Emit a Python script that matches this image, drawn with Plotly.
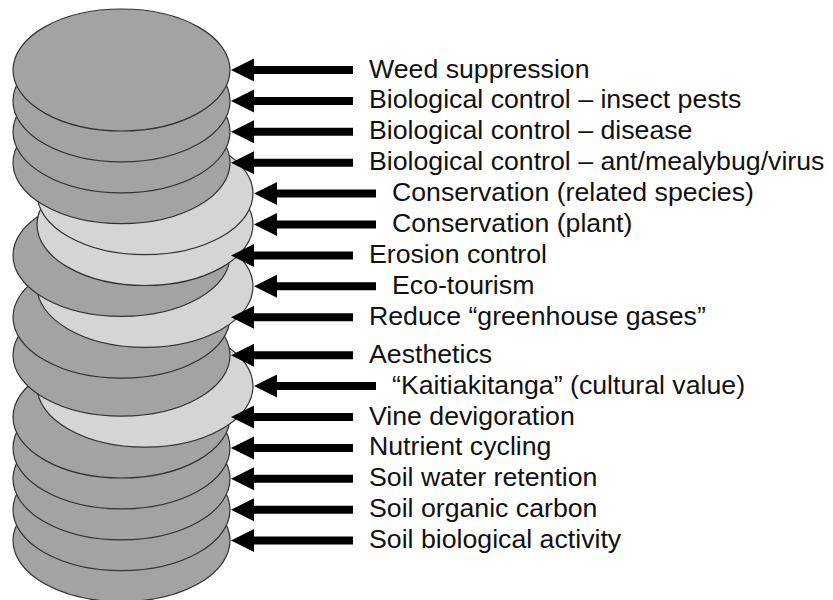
"""Stacked discs of vineyard ecosystem services with arrows and labels."""

import plotly.graph_objects as go

# --- data -------------------------------------------------------------
labels = [
    "Weed suppression",
    "Biological control – insect pests",
    "Biological control – disease",
    "Biological control – ant/mealybug/virus",
    "Conservation (related species)",
    "Conservation (plant)",
    "Erosion control",
    "Eco-tourism",
    "Reduce “greenhouse gases”",
    "Aesthetics",
    "“Kaitiakitanga” (cultural value)",
    "Vine devigoration",
    "Nutrient cycling",
    "Soil water retention",
    "Soil organic carbon",
    "Soil biological activity",
]
# "core" = dark disc, "extra" = light disc shifted right
kinds = ["core", "core", "core", "core", "extra", "extra", "core", "extra",
         "core", "core", "extra", "core", "core", "core", "core", "core"]
# position of each disc in the stack (layer units, top = 0)
layer = [0, 1, 2, 3, 4, 5, 6, 7, 8, 9.23, 10.23, 11.23, 12.23, 13.23, 14.23, 15.23]

# --- geometry / style -------------------------------------------------
W, H = 833, 600
OFF = 8            # page body margin of the html page
PX = 30.9          # pixels per layer
TOP = 70           # pixel y of layer 0
DISC_B = 61 / PX   # half height of a disc, layer units
DISC = {"core": dict(x0=13, x1=230, fill="#a3a3a3", text_x=367),
        "extra": dict(x0=37, x1=253, fill="#d5d5d5", text_x=390)}
ARROW_LEN = 122
HEAD_LEN = 23
HEAD_HALF = 11.5 / PX

fig = go.Figure()

# discs, drawn bottom first so the upper ones cover the lower ones
for i in reversed(range(len(labels))):
    d = DISC[kinds[i]]
    fig.add_shape(type="circle", xref="x", yref="y",
                  x0=d["x0"], x1=d["x1"],
                  y0=layer[i] - DISC_B, y1=layer[i] + DISC_B,
                  fillcolor=d["fill"], line=dict(color="#333333", width=1.2))

# arrows + labels
for i, lab in enumerate(labels):
    d = DISC[kinds[i]]
    tip = d["x1"] + 1
    y = layer[i]
    fig.add_shape(type="line", xref="x", yref="y",
                  x0=tip + HEAD_LEN - 2, x1=tip + ARROW_LEN, y0=y, y1=y,
                  line=dict(color="black", width=8))
    fig.add_shape(type="path", xref="x", yref="y",
                  path=f"M {tip},{y} L {tip + HEAD_LEN},{y - HEAD_HALF} "
                       f"L {tip + HEAD_LEN},{y + HEAD_HALF} Z",
                  fillcolor="black", line=dict(width=0))
    fig.add_annotation(x=d["text_x"], y=y - 1.5 / PX, text=lab, showarrow=False,
                       xanchor="left", yanchor="middle",
                       font=dict(family="Liberation Sans, Arial, sans-serif",
                                 size=26.7, color="#111111"))

fig.update_xaxes(range=[OFF, W], visible=False, fixedrange=True)
fig.update_yaxes(range=[(H - TOP) / PX, (OFF - TOP) / PX], visible=False,
                 fixedrange=True)
fig.update_layout(width=W - OFF, height=H - OFF, margin=dict(l=0, r=0, t=0, b=0),
                  paper_bgcolor="white", plot_bgcolor="white", showlegend=False)

fig.write_html("out.html")
